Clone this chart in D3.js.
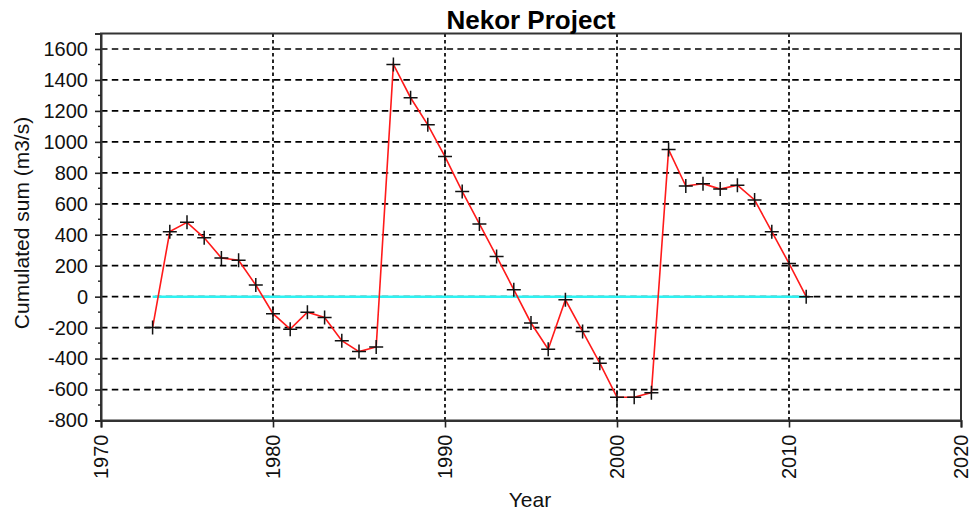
<!DOCTYPE html>
<html>
<head>
<meta charset="utf-8">
<script src="https://cdn.jsdelivr.net/npm/d3@7"></script>
<style>
  html, body { margin: 0; padding: 0; background: #fff; }
  svg { display: block; font-family: "Liberation Sans", Arial, sans-serif; }
</style>
</head>
<body>
<svg id="chart" width="970" height="513"></svg>
<script>
// Cumulated sum of discharge by year
const years = [1973, 1974, 1975, 1976, 1977, 1978, 1979, 1980, 1981, 1982,
  1983, 1984, 1985, 1986, 1987, 1988, 1989, 1990, 1991, 1992,
  1993, 1994, 1995, 1996, 1997, 1998, 1999, 2000, 2001, 2002,
  2003, 2004, 2005, 2006, 2007, 2008, 2009, 2010, 2011];
const cumSum = [-200, 420, 480, 380, 250, 235, 75, -110, -210, -100,
  -135, -285, -355, -325, 1500, 1285, 1110, 905, 680, 470,
  260, 45, -170, -340, -20, -225, -430, -650, -650, -620,
  950, 715, 730, 695, 720, 625, 420, 215, 0];
const xTicks = [1970, 1980, 1990, 2000, 2010, 2020];
const yTicks = [-800, -600, -400, -200, 0, 200, 400, 600, 800, 1000, 1200, 1400, 1600];
const yMinorTicks = d3.range(-700, 1700, 200);
const titleText = "Nekor Project";
const xLabel = "Year";
const yLabel = "Cumulated sum (m3/s)";

const svg = d3.select("#chart");
const L = 101, R = 961, T = 33.5, B = 420.5;

const x = d3.scaleLinear().domain([1970, 2020]).range([L, R]);
const y = d3.scaleLinear().domain([-800, 1700]).range([B, T]);

// grid
const grid = svg.append("g");
grid.selectAll("line.h").data(yTicks.filter(v => v > -800)).join("line")
  .attr("x1", L).attr("x2", R)
  .attr("y1", d => y(d)).attr("y2", d => y(d))
  .attr("stroke", "#000").attr("stroke-width", 1.7)
  .attr("stroke-dasharray", "6.5,4.3");
grid.selectAll("line.v").data(xTicks.filter(v => v > 1970 && v < 2020)).join("line")
  .attr("x1", d => x(d)).attr("x2", d => x(d))
  .attr("y1", T).attr("y2", B)
  .attr("stroke", "#000").attr("stroke-width", 1.7)
  .attr("stroke-dasharray", "3.5,3");

// zero reference line
svg.append("line")
  .attr("x1", x(years[0])).attr("x2", x(years[years.length - 1]))
  .attr("y1", y(0)).attr("y2", y(0))
  .attr("stroke", "#2ef2f2").attr("stroke-width", 2.5);

// frame
svg.append("rect")
  .attr("x", L).attr("y", T).attr("width", R - L).attr("height", B - T)
  .attr("fill", "none").attr("stroke", "#333").attr("stroke-width", 2);

// axes (plain hyphen for negatives)
const fmt = d => String(d);
const yAxis = svg.append("g")
  .attr("transform", `translate(${L},0)`)
  .call(d3.axisLeft(y).tickValues(yTicks).tickSize(6).tickPadding(7).tickFormat(fmt));
yAxis.select(".domain").attr("stroke", "#333").attr("stroke-width", 2);
yAxis.selectAll(".tick line").attr("stroke", "#222").attr("stroke-width", 1.6);
yAxis.selectAll("text").attr("font-size", 20).attr("fill", "#111");

svg.append("g").selectAll("line").data(yMinorTicks).join("line")
  .attr("x1", L - 3).attr("x2", L)
  .attr("y1", d => y(d)).attr("y2", d => y(d))
  .attr("stroke", "#222").attr("stroke-width", 1.4);

const xAxis = svg.append("g")
  .attr("transform", `translate(0,${B})`)
  .call(d3.axisBottom(x).tickValues(xTicks).tickSize(7).tickFormat(fmt));
xAxis.select(".domain").attr("stroke", "#333").attr("stroke-width", 2);
xAxis.selectAll(".tick line").attr("stroke", "#222").attr("stroke-width", 1.6);
xAxis.selectAll("text")
  .attr("font-size", 20).attr("fill", "#111")
  .attr("text-anchor", "end")
  .attr("transform", "translate(0,14) rotate(-90)")
  .attr("x", 0).attr("y", 0).attr("dy", "0.3em");

// series
const pts = years.map((yr, i) => [yr, cumSum[i]]);
svg.append("path")
  .datum(pts)
  .attr("fill", "none").attr("stroke", "#ff1a1a").attr("stroke-width", 1.6)
  .attr("d", d3.line().x(d => x(d[0])).y(d => y(d[1])));

const m = 7;
svg.append("g").selectAll("path").data(pts).join("path")
  .attr("d", d => {
    const cx = x(d[0]), cy = y(d[1]);
    return `M${cx - m},${cy}H${cx + m}M${cx},${cy - m}V${cy + m}`;
  })
  .attr("stroke", "#111").attr("stroke-width", 1.5).attr("fill", "none");

// titles
svg.append("text").attr("x", (L + R) / 2).attr("y", 28.5)
  .attr("text-anchor", "middle").attr("font-size", 26).attr("font-weight", "bold")
  .attr("fill", "#000").text(titleText);
svg.append("text").attr("x", 530).attr("y", 507)
  .attr("text-anchor", "middle").attr("font-size", 21).attr("fill", "#111").text(xLabel);
svg.append("text").attr("transform", "translate(29,223) rotate(-90)")
  .attr("text-anchor", "middle").attr("font-size", 21).attr("fill", "#111").text(yLabel);
</script>
</body>
</html>
